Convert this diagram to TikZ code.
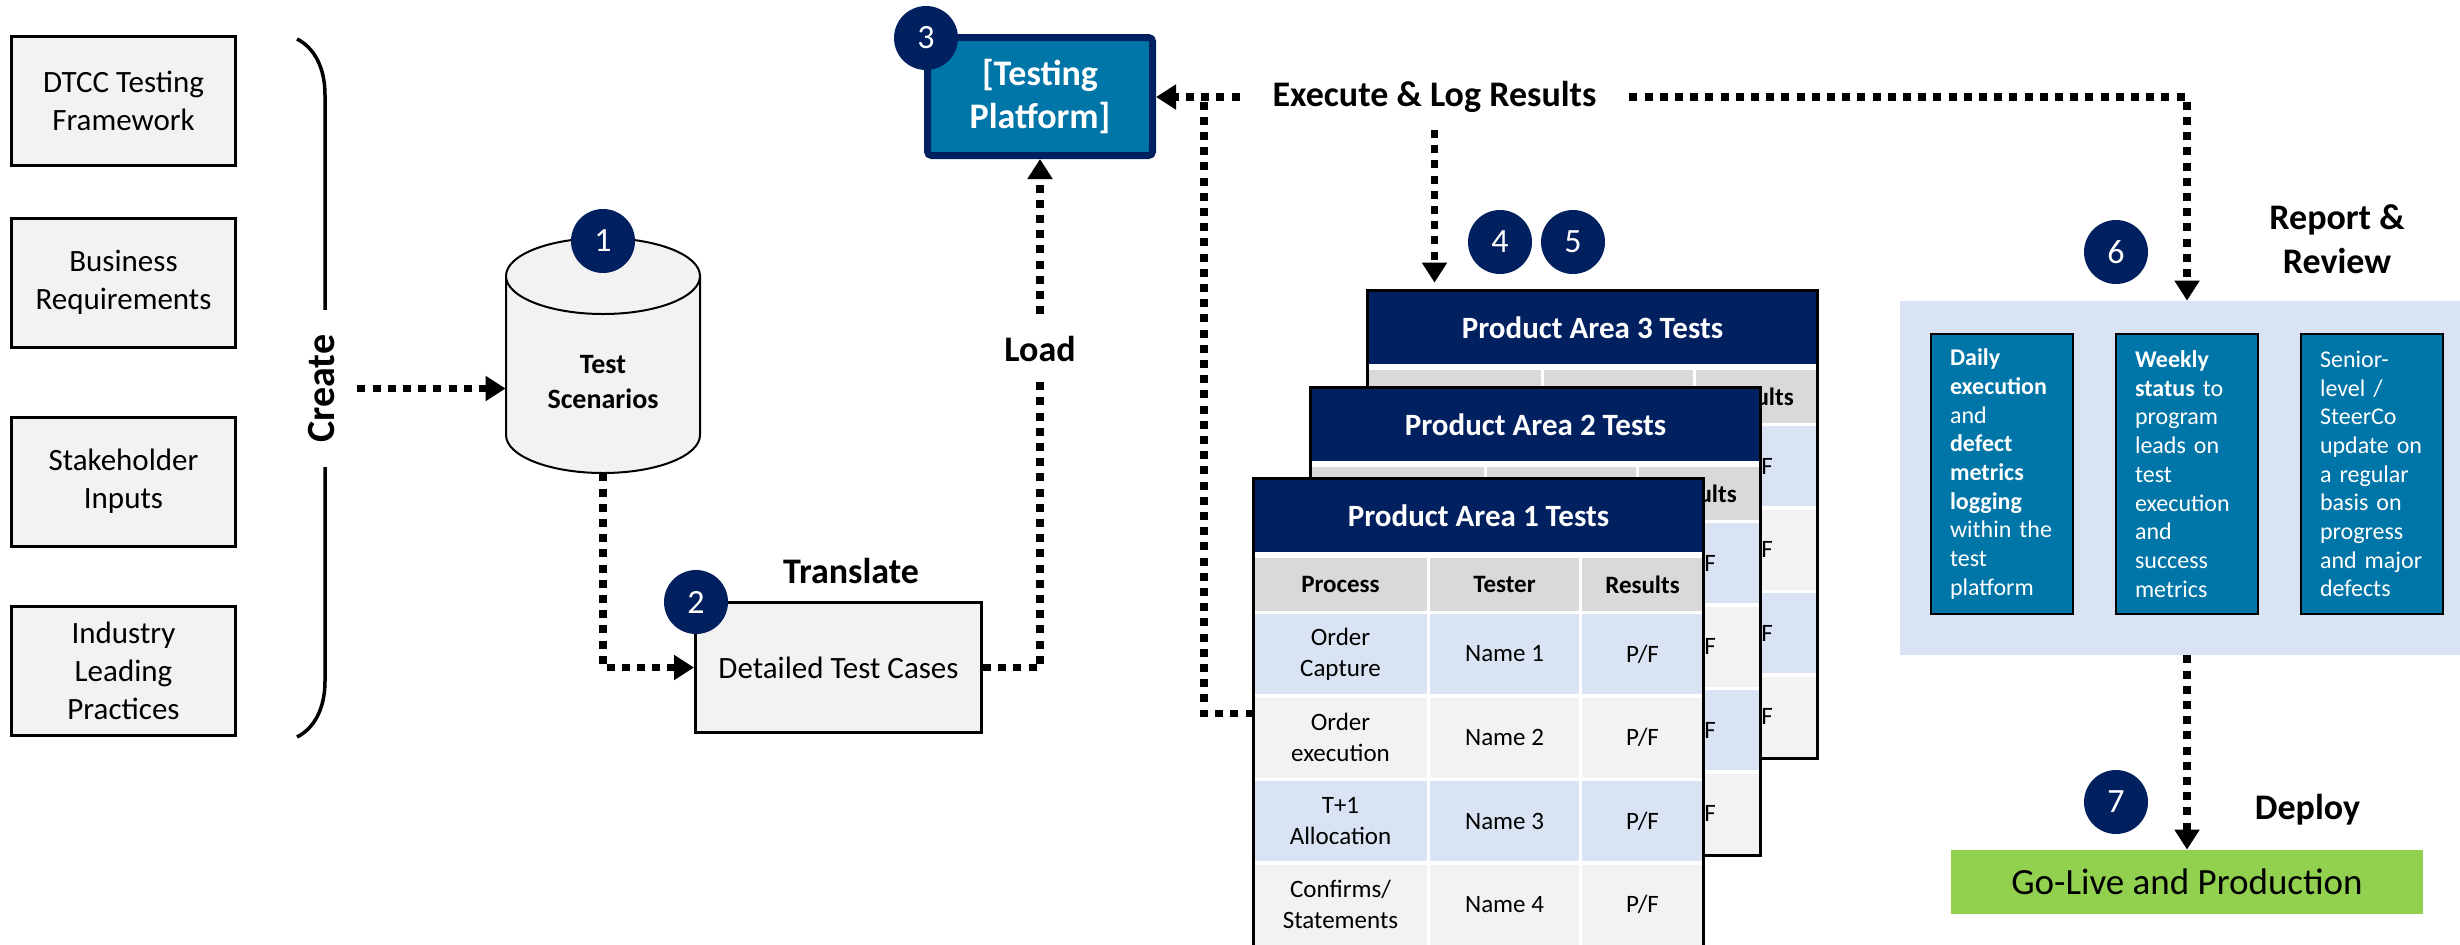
\documentclass[tikz,border=0pt]{standalone}
\usepackage{fontspec}
\setmainfont{Carlito}
\usetikzlibrary{arrows.meta,decorations.pathreplacing,positioning}

\definecolor{navy}{HTML}{002060}
\definecolor{platblue}{HTML}{0076A8}
\definecolor{paleblue}{HTML}{DAE3F3}
\definecolor{boxgray}{HTML}{F2F2F2}
\definecolor{headgray}{HTML}{D9D9D9}
\definecolor{livegreen}{HTML}{92D050}

\tikzset{
  srcbox/.style={draw, line width=1.5pt, fill=boxgray, minimum width=112pt, minimum height=64.5pt, align=center, font=\fontsize{15.5}{19}\selectfont},
  badge/.style={circle, fill=navy, text=white, minimum size=32pt, inner sep=0pt, font=\fontsize{17}{17}\selectfont},
  dotline/.style={line width=3.6pt, dash pattern=on 4pt off 3.6pt},
  dotarrow/.style={dotline, -{Triangle[length=10pt,width=12pt]}},
  steplabel/.style={fill=white, align=center, font=\bfseries\fontsize{18}{22}\selectfont},
  tabcell/.style={inner sep=0pt, align=center, font=\fontsize{12.5}{15.5}\selectfont},
  repbox/.style={draw, line width=0.6pt, fill=platblue, text=white, minimum width=71pt, minimum height=140pt, text width=52pt, align=left, font=\fontsize{12}{14.35}\selectfont}
}

% name, left, top, area number, 1 = front table (all texts)
\newcommand{\areatable}[5]{%
  \begin{scope}[shift={(#2,#3)}]
    \node[fill=white, minimum width=224.5pt, minimum height=233.5pt, inner sep=0pt] (#1) at (224.5,233.5) {};
    \node[fill=navy, text=white, minimum width=224.5pt, minimum height=36.5pt, inner sep=0pt, font=\bfseries\fontsize{15.5}{18}\selectfont] (#1-head) at (224.5,36.5) {Product Area #4 Tests};
    \foreach \xc/\cw/\colname in {86.5/86.5/Process, 250.5/74.5/Tester}
      \node[tabcell, fill=headgray, minimum width=\cw pt, minimum height=26.5pt, font=\bfseries\fontsize{12.5}{15.5}\selectfont] at (\xc,105.5) {\ifnum#5=1 \colname\fi};
    \node[tabcell, fill=headgray, minimum width=60.5pt, minimum height=26.5pt, font=\bfseries\fontsize{12.5}{15.5}\selectfont] at (388.5,105.5) {Results};
    \foreach \yc/\rowfill/\proc/\tester in {175/paleblue/{Order\\Capture}/Name 1, 258.5/boxgray/{Order\\execution}/Name 2, 342/paleblue/{T+1\\Allocation}/Name 3, 425.5/boxgray/{Confirms/\\Statements}/Name 4}{
      \node[tabcell, fill=\rowfill, minimum width=86.5pt, minimum height=40pt] at (86.5,\yc) {\ifnum#5=1 \proc\fi};
      \node[tabcell, fill=\rowfill, minimum width=74.5pt, minimum height=40pt] at (250.5,\yc) {\ifnum#5=1 \tester\fi};
      \node[tabcell, fill=\rowfill, minimum width=60.5pt, minimum height=40pt] at (388.5,\yc) {P/F};
    }
    \draw[line width=1.5pt] (#1.north west) rectangle (#1.south east);
  \end{scope}
}

\begin{document}
\begin{tikzpicture}[x=0.5pt,y=-0.5pt]
  \useasboundingbox (0,0) rectangle (2460,944);
  \clip (0,0) rectangle (2460,944);
  \fill[white] (0,0) rectangle (2460,944);

  \foreach \yc/\nm/\txt in {101/src1/{DTCC Testing\\Framework}, 282.5/src2/{Business\\Requirements}, 481.5/src3/{Stakeholder\\Inputs}, 671/src4/{Industry\\Leading\\Practices}}
    \node[srcbox] (\nm) at (123.5,\yc) {\txt};

  \draw[line width=1.75pt, decorate, decoration={brace, amplitude=28pt}] (297,39) -- (297,737);
  \node[steplabel, rotate=90, minimum width=78.5pt, minimum height=35.5pt, font=\bfseries\fontsize{20}{24}\selectfont] (create) at (321.5,388.5) {Create};

  \node[minimum width=97pt, minimum height=117.5pt, inner sep=0pt] (scen) at (603,355.5) {};
  \draw[line width=1pt, fill=boxgray] (506,276) -- (506,435) arc[start angle=180, end angle=360, x radius=48.5pt, y radius=19pt] -- (700,276) -- cycle;
  \draw[line width=1pt, fill=boxgray] (603,276) ellipse[x radius=48.5pt, y radius=19pt];
  \node[align=center, font=\bfseries\fontsize{14}{17.5}\selectfont] (scentext) at (603,382) {Test\\Scenarios};

  \node[draw=navy, line width=3.5pt, fill=platblue, rounded corners=2pt, minimum width=112.5pt, minimum height=59pt, text=white, align=center, font=\bfseries\fontsize{18}{21.5}\selectfont] (platform) at (1040,96.5) {[Testing\\Platform]};
  \node[draw, line width=1.5pt, fill=boxgray, minimum width=143pt, minimum height=65pt, font=\fontsize{15.5}{19}\selectfont] (cases) at (838.5,667.5) {Detailed Test Cases};
  \node[steplabel] (translate) at (851,571) {Translate};

  \areatable{tab3}{1368}{291}{3}{0}
  \areatable{tab2}{1311}{388}{2}{0}
  \areatable{tab1}{1254}{479}{1}{1}

  \node[fill=paleblue, minimum width=287pt, minimum height=177pt, inner sep=0pt] (report) at (2187,478) {};
  \foreach \xc/\nm/\txt in {2002/repa/{\textbf{Daily}\\\textbf{execution}\\and\\\textbf{defect}\\\textbf{metrics}\\\textbf{logging}\\within the\\test\\platform}, 2187/repb/{\textbf{Weekly}\\\textbf{status} to\\program\\leads on\\test\\execution\\and\\success\\metrics}, 2372/repc/{Senior-\\level /\\SteerCo\\update on\\a regular\\basis on\\progress\\and major\\defects}}
    \node[repbox] (\nm) at (\xc,474) {\txt};
  \node[fill=livegreen, minimum width=236pt, minimum height=32pt, font=\fontsize{18.5}{22}\selectfont] (golive) at (2187,882) {Go-Live and Production};

  \node[steplabel, minimum width=194.5pt, minimum height=32.5pt] (exec) at (1434.5,97) {Execute \& Log Results};
  \node[steplabel, minimum width=118pt, minimum height=55.5pt] (revlabel) at (2337,239.5) {Report \&\\Review};
  \node[steplabel, minimum width=104.5pt, minimum height=32pt] (deploylabel) at (2307.5,810) {Deploy};

  \coordinate (junc) at (1204,97);
  \coordinate (tabin) at ([yshift=-117.5pt]tab1.north west);

  \draw[dotarrow] (create.south) -- (create.south -| scen.west);
  \draw[dotarrow] (scen.south) |- (cases.west);
  \draw[dotarrow] (cases.east) -| (platform.south);
  \node[steplabel, minimum width=79pt, minimum height=31.5pt] (load) at (1040,349) {Load};
  \draw[dotarrow] (exec.west) -- (exec.west -| platform.east);
  \draw[dotline] (tabin) -| (junc);
  \draw[dotarrow] (exec.south) -- ([yshift=4pt]exec.south |- tab3.north);
  \draw[dotarrow] (exec.east) -| (report.north);
  \draw[dotarrow] (report.south) -- (golive.north);

  \foreach \nm/\xc/\yc/\num in {b1/603/241/1, b2/696/602/2, b3/926/38/3, b4/1500/242/4, b5/1573/242/5, b6/2116/252/6, b7/2116/802/7}
    \node[badge] (\nm) at (\xc,\yc) {\num};
\end{tikzpicture}
\end{document}
